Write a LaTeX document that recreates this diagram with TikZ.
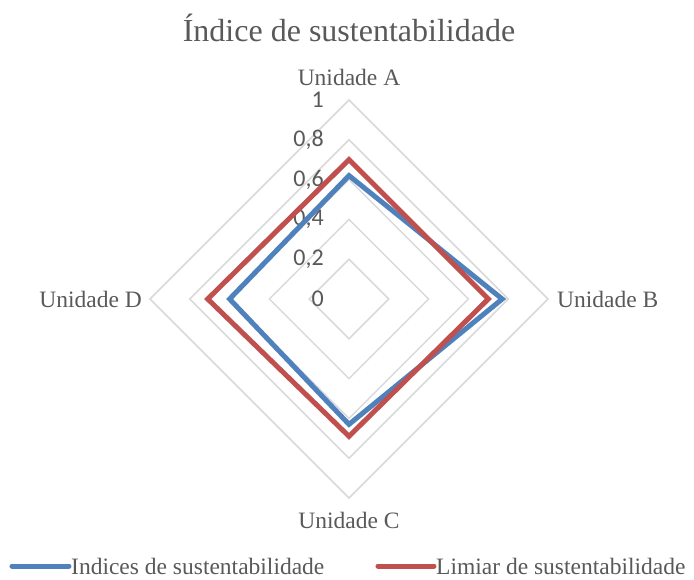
\documentclass[tikz,border=0pt]{standalone}
\usepackage{fontspec}
\setmainfont{Liberation Serif}
\newfontfamily\tickfont{Carlito}
\definecolor{gridgray}{HTML}{D9D9D9}
\definecolor{textgray}{HTML}{595959}
\definecolor{serieblue}{HTML}{4F81BD}
\definecolor{seriered}{HTML}{C0504D}
\tikzset{
  ring/.style={gridgray, line width=1.5pt},
  serie/.style={line width=5pt},
  axislabel/.style={text=textgray, font=\fontsize{23.5}{26}\selectfont, inner sep=0pt},
  ticklabel/.style={text=textgray, font=\tickfont\fontsize{24}{26}\selectfont, inner sep=0pt, anchor=east},
}
\begin{document}
\begin{tikzpicture}[x=1pt,y=1pt]
            \useasboundingbox (-349,-280) rectangle (345,299);
            \def\R{199}

            \foreach \r in {1,...,5}
                \draw[ring] (0,\r*\R/5) -- (\r*\R/5,0) -- (0,-\r*\R/5) -- (-\r*\R/5,0) -- cycle;

            \foreach \v/\t in {0/0,0.2/{0,2},0.4/{0,4},0.6/{0,6},0.8/{0,8},1/1}
                \node[ticklabel] (tick\v) at (-25,\v*\R) {\t};

            \draw[serie, serieblue] (0,0.62*\R) -- (0.77*\R,0) -- (0,-0.63*\R) -- (-0.60*\R,0) -- cycle;
            \draw[serie, seriered] (0,0.70*\R) -- (0.70*\R,0) -- (0,-0.69*\R) -- (-0.71*\R,0) -- cycle;

            \node[axislabel] (unitA) at (0,222) {Unidade A};
            \node[axislabel, anchor=west] (unitB) at (208,0) {Unidade B};
            \node[axislabel] (unitC) at (0,-221) {Unidade C};
            \node[axislabel, anchor=east] (unitD) at (-207,0) {Unidade D};

            \node[text=textgray, font=\fontsize{32}{36}\selectfont] (title) at (0,271) {Índice de sustentabilidade};

            % legenda
            \coordinate (legBa) at (-337,-267);
            \coordinate (legBb) at (-280,-267);
            \draw[serieblue, line width=5pt, line cap=round] (legBa) -- (legBb);
            \node[axislabel, anchor=west] (legB) at (-278,-267) {Indices de sustentabilidade};
            \coordinate (legRa) at (29,-267);
            \coordinate (legRb) at (85,-267);
            \draw[seriered, line width=5pt, line cap=round] (legRa) -- (legRb);
            \node[axislabel, anchor=west] (legR) at (87,-267) {Limiar de sustentabilidade};
\end{tikzpicture}
\end{document}
